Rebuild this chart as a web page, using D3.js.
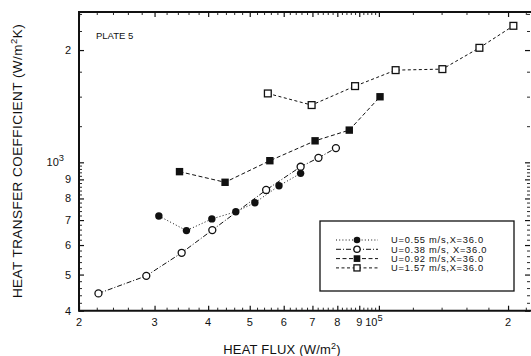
<!DOCTYPE html>
<html><head><meta charset="utf-8">
<script src="https://cdn.jsdelivr.net/npm/d3@7"></script>
<style>
body{margin:0;background:#fff}
svg{display:block}
text{font-family:"Liberation Sans",Arial,Helvetica,sans-serif;fill:#111}
</style>
</head><body>
<svg id="c" width="531" height="356"></svg>
<script>
// ---- data ----
const xTickValues = [2e4, 3e4, 4e4, 5e4, 6e4, 7e4, 8e4, 9e4, 1e5, 2e5];
const xTickLabels = ["2", "3", "4", "5", "6", "7", "8", "9", "10|5", "2"];
const yTickValues = [400, 500, 600, 700, 800, 900, 1000, 2000];
const yTickLabels = ["4", "5", "6", "7", "8", "9", "10|3", "2"];

const seriesNames = ["U=0.55 m/s,X=36.0", "U=0.38 m/s, X=36.0", "U=0.92 m/s,X=36.0", "U=1.57 m/s,X=36.0"];

const u055X = [30700, 35600, 40800, 46400, 51400, 58500, 65700];
const u055Y = [718, 656, 705, 737, 779, 865, 934];

const u038X = [22200, 28700, 34700, 40900, 54600, 65700, 72300, 79400];
const u038Y = [445, 496, 572, 658, 843, 973, 1028, 1092];

const u092X = [34300, 43800, 55700, 71000, 85300, 100600];
const u092Y = [944, 884, 1010, 1142, 1220, 1499];

const u157X = [55100, 69700, 88000, 109400, 140600, 171500, 205800];
const u157Y = [1530, 1424, 1601, 1767, 1778, 2028, 2323];

// ---- layout ----
const L = 79, R = 530, T = 12, B = 310.7;
const svg = d3.select("#c");
const x = d3.scaleLog().domain([2e4, 2.25e5]).range([L, R]);
const y = d3.scaleLog().domain([400, 2530]).range([B, T]);

// minor ticks
const xMinor = [];
for (let m = 2; m < 10; m++) for (let k = 1; k < 5; k++) xMinor.push((m + k * 0.2) * 1e4);
[1.2, 1.4, 1.6, 1.8, 2.2].forEach(m => xMinor.push(m * 1e5));
const yMinor = [];
for (let m = 4; m < 10; m++) for (let k = 1; k < 5; k++) yMinor.push((m + k * 0.2) * 100);
[1.25, 1.5, 1.75, 2.25, 2.5].forEach(m => yMinor.push(m * 1e3));

function styleAxis(g, w) {
  g.select(".domain").remove();
  g.selectAll(".tick line").attr("stroke", "#111").attr("stroke-width", w);
}
// major/minor ticks, inward on all four sides
[[d3.axisBottom, B, 5, xTickValues, 1.2], [d3.axisBottom, B, 3, xMinor, 0.9],
 [d3.axisTop, T, 5, xTickValues, 1.2], [d3.axisTop, T, 3, xMinor, 0.9]].forEach(([fn, pos, len, vals, w]) => {
  svg.append("g").attr("transform", `translate(0,${pos})`)
    .call(fn(x).tickValues(vals.filter(v => v <= 2.25e5)).tickSize(-len).tickFormat(""))
    .call(g => styleAxis(g, w));
});
[[d3.axisLeft, L, 5, yTickValues, 1.2], [d3.axisLeft, L, 3, yMinor, 0.9],
 [d3.axisRight, R, 5, yTickValues, 1.2], [d3.axisRight, R, 3, yMinor, 0.9]].forEach(([fn, pos, len, vals, w]) => {
  svg.append("g").attr("transform", `translate(${pos},0)`)
    .call(fn(y).tickValues(vals.filter(v => v <= 2530)).tickSize(-len).tickFormat(""))
    .call(g => styleAxis(g, w));
});

// frame
svg.append("line").attr("x1", L).attr("x2", 531).attr("y1", B).attr("y2", B).attr("stroke", "#111").attr("stroke-width", 2);
svg.append("line").attr("x1", L).attr("x2", 531).attr("y1", T).attr("y2", T).attr("stroke", "#111").attr("stroke-width", 2);
svg.append("line").attr("x1", L).attr("x2", L).attr("y1", T - 1).attr("y2", B + 1).attr("stroke", "#111").attr("stroke-width", 2);

// tick labels
function putLabel(g, s, size) {
  const parts = s.split("|");
  g.text(parts[0]);
  if (parts.length > 1) g.append("tspan").attr("dy", -5).attr("font-size", size * 0.85).text(parts[1]);
}
xTickValues.forEach((v, i) => {
  const lab = xTickLabels[i];
  const t = svg.append("text").attr("x", x(v) + (lab.includes("|") ? -5 : 0)).attr("y", 326)
    .attr("text-anchor", "middle").attr("font-size", 11);
  putLabel(t, lab, 11);
});
yTickValues.forEach((v, i) => {
  const lab = yTickLabels[i];
  const t = svg.append("text").attr("x", lab.includes("|") ? 64 : 71).attr("y", y(v) + 4)
    .attr("text-anchor", "end").attr("font-size", 11);
  putLabel(t, lab, 11);
});

// axis titles
const xt = svg.append("text").attr("x", 282).attr("y", 354).attr("text-anchor", "middle")
  .attr("font-size", 13).attr("letter-spacing", 0.2);
xt.text("HEAT FLUX (W/m");
xt.append("tspan").attr("dy", -5).attr("font-size", 9).text("2");
xt.append("tspan").attr("dy", 5).text(")");

const yt = svg.append("text").attr("transform", "translate(22,161) rotate(-90)").attr("text-anchor", "middle")
  .attr("font-size", 13.5).attr("letter-spacing", 0.45);
yt.text("HEAT TRANSFER COEFFICIENT (W/m");
yt.append("tspan").attr("dy", -5).attr("font-size", 9.5).text("2");
yt.append("tspan").attr("dy", 5).text("K)");

svg.append("text").attr("x", 96).attr("y", 39).attr("font-size", 9.5).text("PLATE 5");

// ---- series ----
const series = [
  {xs: u055X, ys: u055Y, dash: "1,2.2", marker: "fcircle"},
  {xs: u038X, ys: u038Y, dash: "5,2,1,2", marker: "ocircle"},
  {xs: u092X, ys: u092Y, dash: "4,2.5", marker: "fsquare"},
  {xs: u157X, ys: u157Y, dash: "3,2.5", marker: "osquare"}
];
const line = d3.line().x(d => x(d[0])).y(d => y(d[1]));

function drawMarker(g, type, cx, cy, k) {
  k = k || 1;
  if (type === "fcircle") g.append("circle").attr("cx", cx).attr("cy", cy).attr("r", 3.7 * k).attr("fill", "#111");
  if (type === "ocircle") g.append("circle").attr("cx", cx).attr("cy", cy).attr("r", 3.5 * k).attr("fill", "#fff").attr("stroke", "#111").attr("stroke-width", 1.3);
  if (type === "fsquare") g.append("rect").attr("x", cx - 3.7 * k).attr("y", cy - 3.7 * k).attr("width", 7.4 * k).attr("height", 7.4 * k).attr("fill", "#111");
  if (type === "osquare") g.append("rect").attr("x", cx - 3.4 * k).attr("y", cy - 3.4 * k).attr("width", 6.8 * k).attr("height", 6.8 * k).attr("fill", "#fff").attr("stroke", "#111").attr("stroke-width", 1.3);
}

series.forEach(s => {
  const pts = s.xs.map((v, i) => [v, s.ys[i]]);
  svg.append("path").datum(pts).attr("d", line).attr("fill", "none").attr("stroke", "#111")
    .attr("stroke-width", 1).attr("stroke-dasharray", s.dash);
});
series.forEach(s => {
  const g = svg.append("g");
  s.xs.forEach((v, i) => drawMarker(g, s.marker, x(v), y(s.ys[i])));
});

// ---- legend ----
const lg = svg.append("g");
lg.append("rect").attr("x", 320).attr("y", 221).attr("width", 194).attr("height", 70)
  .attr("fill", "#fff").attr("stroke", "#111").attr("stroke-width", 1.3);
series.forEach((s, i) => {
  const cy = 240 + i * 9.3;
  lg.append("line").attr("x1", 336).attr("x2", 378).attr("y1", cy).attr("y2", cy)
    .attr("stroke", "#111").attr("stroke-width", 1).attr("stroke-dasharray", s.dash);
  drawMarker(lg, s.marker, 357, cy, 0.9);
  lg.append("text").attr("x", 391).attr("y", cy + 3.3).attr("font-size", 9.3)
    .attr("letter-spacing", 0.75).text(seriesNames[i]);
});
</script>
</body></html>
